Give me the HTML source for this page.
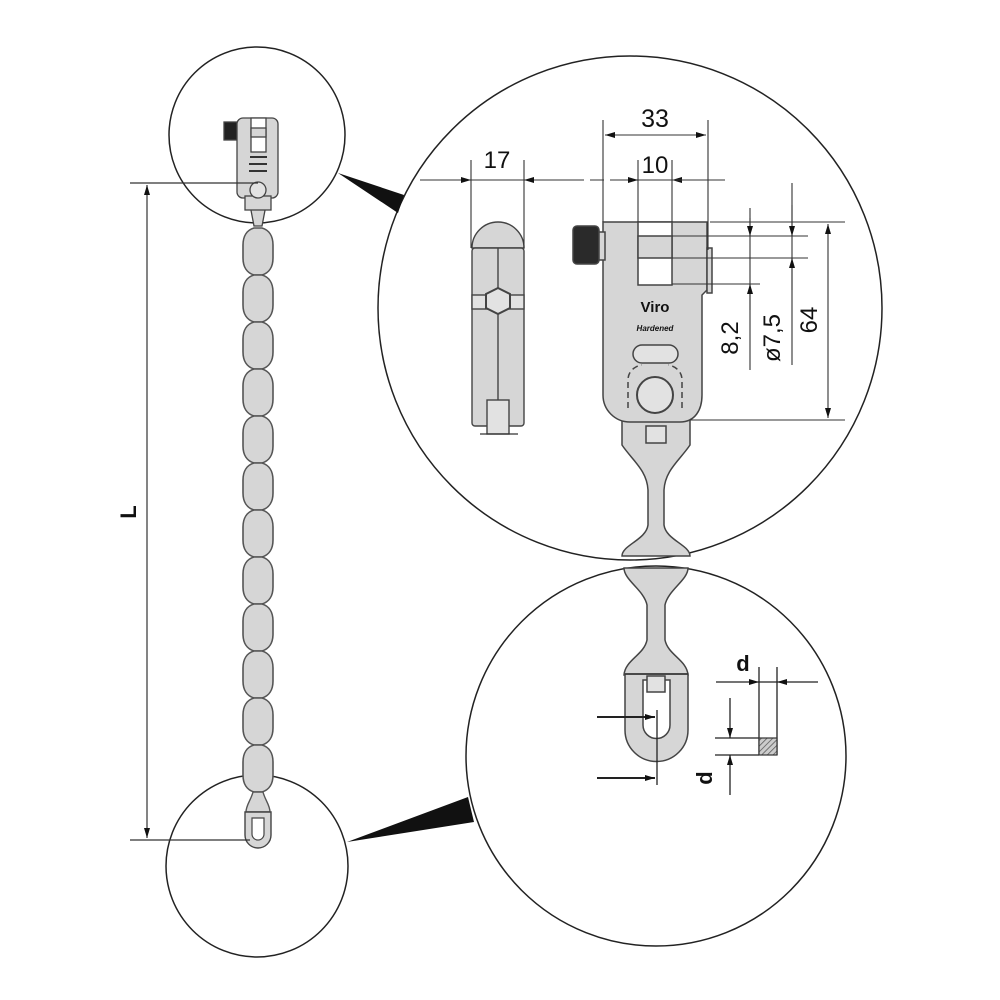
<!DOCTYPE html>
<html><head><meta charset="utf-8"><style>
html,body{margin:0;padding:0;background:#fff}
svg{display:block}
text{font-family:"Liberation Sans",sans-serif;fill:#111}
</style></head><body>
<svg width="1000" height="1000" viewBox="0 0 1000 1000" xmlns="http://www.w3.org/2000/svg">
<defs>
<path id="lk" d="M-4,0 C-11,2 -15,8 -15,17 L-15,30 C-15,39 -11,45 -4,47 L4,47 C11,45 15,39 15,30 L15,17 C15,8 11,2 4,0 Z" fill="#d6d6d6" stroke="#555" stroke-width="1.6"/>
<marker id="ar" viewBox="0 0 10 6" refX="10" refY="3" markerWidth="10" markerHeight="6" orient="auto-start-reverse" markerUnits="userSpaceOnUse"><path d="M0,0 L10,3 L0,6 Z" fill="#111"/></marker>
<pattern id="hatch" width="4" height="4" patternUnits="userSpaceOnUse" patternTransform="rotate(45)"><rect width="4" height="4" fill="#ccc"/><line x1="0" y1="0" x2="0" y2="4" stroke="#555" stroke-width="1.5"/></pattern>
</defs>

<g fill="none" stroke="#222" stroke-width="1.5">
<circle cx="257" cy="135" r="88"/>
<circle cx="257" cy="866" r="91"/>
<circle cx="630" cy="308" r="252"/>
<circle cx="656" cy="756" r="190"/>
</g>
<polygon points="338,173 404,195 398,213" fill="#111"/>
<polygon points="347,842 468,797 474,822" fill="#111"/>

<g transform="translate(258,0)">
<use href="#lk" y="228"/><use href="#lk" y="275"/><use href="#lk" y="322"/><use href="#lk" y="369"/>
<use href="#lk" y="416"/><use href="#lk" y="463"/><use href="#lk" y="510"/><use href="#lk" y="557"/>
<use href="#lk" y="604"/><use href="#lk" y="651"/><use href="#lk" y="698"/><use href="#lk" y="745"/>
<path d="M-5,792 L5,792 C7,800 12,805 12,812 L-12,812 C-12,805 -7,800 -5,792Z" fill="#d6d6d6" stroke="#555" stroke-width="1.4"/>
<path d="M-13,812 L13,812 L13,835 A13,13 0 0 1 -13,835 Z" fill="#d6d6d6" stroke="#444" stroke-width="1.4"/>
<path d="M-6,818 L6,818 L6,834 A6,6 0 0 1 -6,834 Z" fill="#fff" stroke="#444" stroke-width="1.2"/>
</g>
<g stroke="#444" stroke-width="1.3" fill="#d6d6d6">
<rect x="224" y="122" width="13" height="18" fill="#222"/>
<rect x="237" y="118" width="41" height="80" rx="6"/>
<rect x="251" y="118" width="15" height="34" fill="#fff"/>
<rect x="251" y="128" width="15" height="9"/>
<path d="M250,205 L266,205 L262,226 L254,226Z"/>
<rect x="245" y="196" width="26" height="14"/>
<circle cx="258" cy="190" r="8" fill="#e2e2e2"/>
</g>
<line x1="250" y1="157" x2="267" y2="157" stroke="#333" stroke-width="2"/>
<line x1="249" y1="164" x2="267" y2="164" stroke="#333" stroke-width="2"/>
<line x1="249" y1="171" x2="267" y2="171" stroke="#333" stroke-width="2"/>

<g stroke="#333" stroke-width="1.2">
<line x1="130" y1="183" x2="258" y2="183"/>
<line x1="130" y1="840" x2="250" y2="840"/>
<line x1="147" y1="185" x2="147" y2="838" marker-start="url(#ar)" marker-end="url(#ar)"/>
</g>
<text x="136" y="512" font-size="22" font-weight="bold" transform="rotate(-90 136 512)" text-anchor="middle">L</text>

<g stroke="#444" stroke-width="1.5">
<path d="M622,420 L690,420 L690,445 C680,460 665,470 664,490 L664,525 C666,540 690,545 690,556 L622,556 C622,545 646,540 648,525 L648,490 C647,470 632,460 622,445 Z" fill="#d6d6d6"/>
<path d="M603,222 L707,222 L707,290 L702,295 L702,395 C702,410 695,422 680,422 L630,422 C615,422 603,410 603,395 Z" fill="#d6d6d6"/>
<rect x="638" y="222" width="34" height="63" fill="#fff" stroke="#444"/>
<rect x="638" y="236" width="34" height="22" fill="#d6d6d6"/>
<rect x="707" y="248" width="5" height="45" fill="#d6d6d6"/>
<rect x="573" y="226" width="26" height="38" rx="4" fill="#2a2a2a"/>
<rect x="599" y="232" width="6" height="28" fill="#d6d6d6"/>
<rect x="633" y="345" width="45" height="18" rx="9" fill="#e2e2e2"/>
<circle cx="655" cy="395" r="18" fill="#e2e2e2" stroke-width="2"/>
<path d="M628,408 L628,380 C628,368 640,365 642,365 M682,408 L682,380 C682,368 670,365 668,365" fill="none" stroke-dasharray="6 4"/>
<rect x="646" y="426" width="20" height="17" fill="#e2e2e2"/>
</g>
<text x="655" y="312" font-size="15" font-weight="bold" text-anchor="middle" fill="#666">Viro</text>
<text x="655" y="331" font-size="8" font-style="italic" font-weight="bold" text-anchor="middle" fill="#444">Hardened</text>

<g stroke="#444" stroke-width="1.4" fill="#d6d6d6">
<path d="M472,248 A26,26 0 0 1 524,248 Z"/>
<rect x="472" y="248" width="52" height="178" rx="3"/>
<line x1="498" y1="248" x2="498" y2="405"/>
<rect x="472" y="295" width="52" height="14" fill="#e2e2e2"/>
<polygon points="498,288 510,294 510,308 498,314 486,308 486,294" fill="#e2e2e2" stroke-width="2"/>
<rect x="487" y="400" width="22" height="34" fill="#e2e2e2"/>
</g>
<line x1="480" y1="434" x2="518" y2="434" stroke="#333" stroke-width="1.2"/>

<g stroke="#333" stroke-width="1.1" fill="none">
<line x1="471" y1="160" x2="471" y2="248"/><line x1="524" y1="160" x2="524" y2="248"/>
<line x1="420" y1="180" x2="471" y2="180" marker-end="url(#ar)"/>
<line x1="580" y1="180" x2="524" y2="180" marker-end="url(#ar)"/>
<line x1="471" y1="180" x2="524" y2="180"/>
<line x1="603" y1="120" x2="603" y2="222"/><line x1="708" y1="120" x2="708" y2="250"/>
<line x1="605" y1="135" x2="706" y2="135" marker-start="url(#ar)" marker-end="url(#ar)"/>
<line x1="638" y1="160" x2="638" y2="222"/><line x1="672" y1="160" x2="672" y2="222"/>
<line x1="550" y1="180" x2="638" y2="180" stroke-dasharray="14 6"/>
<line x1="612" y1="180" x2="638" y2="180" marker-end="url(#ar)"/>
<line x1="698" y1="180" x2="672" y2="180" marker-end="url(#ar)"/>
<line x1="638" y1="180" x2="725" y2="180"/>
<line x1="710" y1="222" x2="845" y2="222"/>
<line x1="672" y1="236" x2="808" y2="236"/>
<line x1="672" y1="258" x2="808" y2="258"/>
<line x1="672" y1="284" x2="760" y2="284"/>
<line x1="690" y1="420" x2="845" y2="420"/>
<line x1="750" y1="208" x2="750" y2="370"/>
<line x1="750" y1="218" x2="750" y2="236" marker-end="url(#ar)"/>
<line x1="750" y1="310" x2="750" y2="284" marker-end="url(#ar)"/>
<line x1="792" y1="183" x2="792" y2="365"/>
<line x1="792" y1="205" x2="792" y2="236" marker-end="url(#ar)"/>
<line x1="792" y1="290" x2="792" y2="258" marker-end="url(#ar)"/>
<line x1="828" y1="224" x2="828" y2="418" marker-start="url(#ar)" marker-end="url(#ar)"/>
</g>
<text x="497" y="168" font-size="24" text-anchor="middle">17</text>
<text x="655" y="127" font-size="25" text-anchor="middle">33</text>
<text x="655" y="173" font-size="24" text-anchor="middle">10</text>
<text x="738" y="338" font-size="24" text-anchor="middle" transform="rotate(-90 738 338)">8,2</text>
<text x="780" y="338" font-size="24" text-anchor="middle" transform="rotate(-90 780 338)">ø7,5</text>
<text x="817" y="320" font-size="24" text-anchor="middle" transform="rotate(-90 817 320)">64</text>

<g stroke="#444" stroke-width="1.5">
<path d="M624,568 L688,568 C688,580 668,590 665,605 L665,640 C668,655 687,660 688,675 L624,675 C625,660 644,655 647,640 L647,605 C644,590 624,580 624,568 Z" fill="#d6d6d6"/>
<path d="M625,674 L688,674 L688,730 A31.5,31.5 0 0 1 625,730 Z" fill="#d6d6d6"/>
<path d="M643,680 L670,680 L670,725 A13.5,13.5 0 0 1 643,725 Z" fill="#fff"/>
<rect x="647" y="676" width="18" height="16" fill="#e2e2e2"/>
</g>
<line x1="625" y1="674" x2="688" y2="674" stroke="#333" stroke-width="1.5"/>
<g stroke="#222" stroke-width="1.3" fill="none">
<line x1="657" y1="710" x2="657" y2="785"/>
<line x1="597" y1="717" x2="655" y2="717" stroke-width="2" marker-end="url(#ar)"/>
<line x1="597" y1="778" x2="655" y2="778" stroke-width="2" marker-end="url(#ar)"/>
<line x1="759" y1="667" x2="759" y2="755"/><line x1="777" y1="667" x2="777" y2="755"/>
<line x1="716" y1="682" x2="759" y2="682" marker-end="url(#ar)"/>
<line x1="818" y1="682" x2="777" y2="682" marker-end="url(#ar)"/>
<line x1="759" y1="682" x2="777" y2="682"/>
<line x1="715" y1="738" x2="759" y2="738"/><line x1="715" y1="755" x2="759" y2="755"/>
<line x1="730" y1="698" x2="730" y2="738" marker-end="url(#ar)"/>
<line x1="730" y1="795" x2="730" y2="755" marker-end="url(#ar)"/>
</g>
<rect x="759" y="738" width="18" height="17" fill="url(#hatch)" stroke="#333" stroke-width="1.2"/>
<text x="743" y="671" font-size="22" font-weight="bold" text-anchor="middle">d</text>
<text x="712" y="778" font-size="22" font-weight="bold" text-anchor="middle" transform="rotate(-90 712 778)">d</text>
</svg>
</body></html>
